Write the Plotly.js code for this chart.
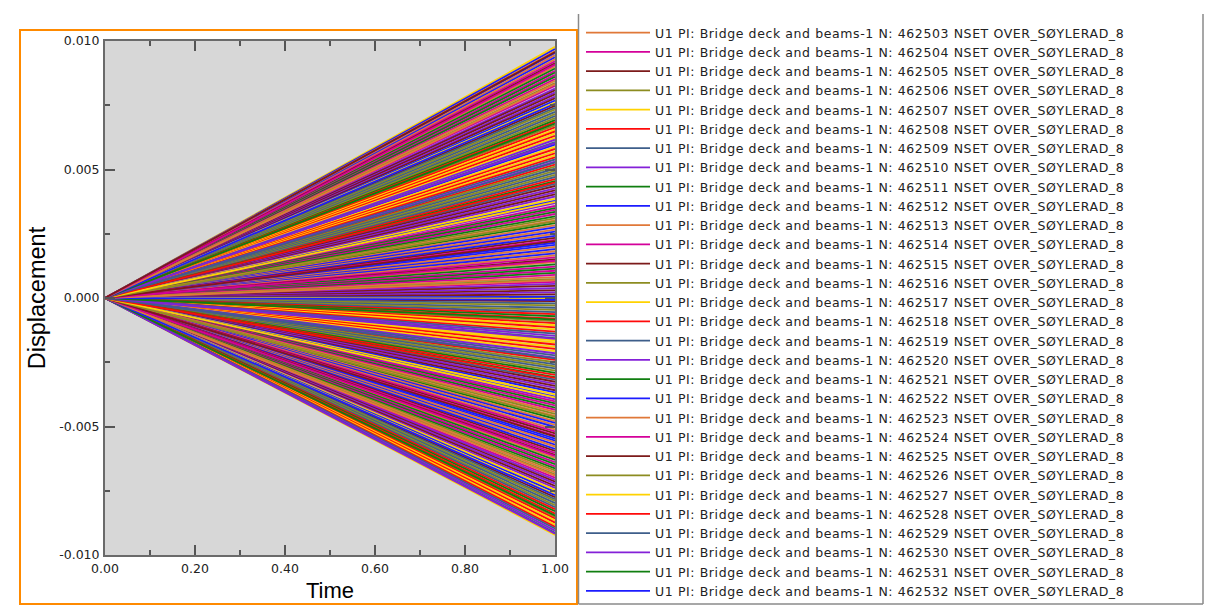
<!DOCTYPE html>
<html><head><meta charset="utf-8">
<script src="https://cdn.plot.ly/plotly-3.0.1.min.js"></script>
<style>
html,body{margin:0;padding:0;background:#fff;}
#chart{width:1211px;height:611px;}
.legendtext{letter-spacing:0.6px;}
</style></head><body><div id="chart"></div>
<script>
// Time axis samples (each history is a straight line from 0 to its final value)
const timeValues = [0.0, 1.0];
const startDisplacement = 0.0;
// U1 displacement at time = 1.0, one entry per node history
const endDisplacement = [
 0.00597, 0.00901, 0.00826, 0.00748, 0.00672, 0.00977, 0.00519, 0.00444, 0.00369, 0.00291, 0.00215, 0.00140, 0.00063, -0.00012, -0.00090, -0.00165, -0.00241, -0.00318, -0.00394, -0.00470, -0.00547, -0.00622, -0.00699, -0.00775, -0.00851, -0.00922,
 -0.00858, -0.00783, -0.00707, -0.00630, -0.00555, -0.00479, -0.00402, -0.00326, -0.00250, -0.00173, -0.00098, -0.00021, 0.00055, 0.00131, 0.00207, 0.00283, 0.00358, 0.00436, 0.00511, 0.00588, 0.00664, 0.00740, 0.00815, 0.00893, 0.00969,
 0.00961, 0.00884, 0.00808, 0.00733, 0.00655, 0.00580, 0.00503, 0.00427, 0.00350, 0.00275, 0.00199, 0.00122, 0.00047, -0.00029, -0.00106, -0.00181, -0.00258, -0.00334, -0.00410, -0.00486, -0.00562, -0.00639, -0.00715, -0.00790, -0.00866,
 -0.00874, -0.00798, -0.00722, -0.00647, -0.00571, -0.00494, -0.00418, -0.00342, -0.00266, -0.00190, -0.00114, -0.00038, 0.00038, 0.00114, 0.00190, 0.00266, 0.00343, 0.00419, 0.00495, 0.00571, 0.00648, 0.00724, 0.00800, 0.00877, 0.00953,
 0.00945, 0.00868, 0.00793, 0.00716, 0.00640, 0.00563, 0.00487, 0.00411, 0.00335, 0.00258, 0.00182, 0.00106, 0.00030, -0.00046, -0.00122, -0.00198, -0.00274, -0.00350, -0.00427, -0.00502, -0.00578, -0.00655, -0.00731, -0.00806, -0.00882,
 -0.00890, -0.00814, -0.00739, -0.00663, -0.00587, -0.00511, -0.00435, -0.00359, -0.00283, -0.00207, -0.00131, -0.00055, 0.00022, 0.00098, 0.00174, 0.00250, 0.00327, 0.00403, 0.00479, 0.00555, 0.00631, 0.00708, 0.00784, 0.00861, 0.00937,
 0.00929, 0.00852, 0.00777, 0.00700, 0.00623, 0.00547, 0.00471, 0.00395, 0.00318, 0.00242, 0.00166, 0.00090, 0.00014, 0.00003, -0.00004, -0.00063, -0.00139, -0.00215, -0.00291, -0.00367, -0.00443, -0.00519, -0.00595, -0.00671, -0.00747, -0.00822, -0.00897,
 -0.00905, -0.00830, -0.00755, -0.00679, -0.00603, -0.00527, -0.00451, -0.00375, -0.00299, -0.00223, -0.00147, -0.00071, 0.00005, 0.00081, 0.00158, 0.00234, 0.00310, 0.00386, 0.00463, 0.00539, 0.00616, 0.00692, 0.00768, 0.00845, 0.00921,
 0.00913, 0.00836, 0.00760, 0.00684, 0.00607, 0.00531, 0.00455, 0.00378, 0.00302, 0.00226, 0.00150, 0.00073, -0.00003, -0.00080, -0.00156, -0.00232, -0.00308, -0.00384, -0.00459, -0.00535, -0.00611, -0.00687, -0.00763, -0.00839, -0.00913,
 -0.00917, -0.00846, -0.00767, -0.00691, -0.00615, -0.00539, -0.00463, -0.00387, -0.00311, -0.00235, -0.00159, -0.00084, -0.00007, 0.00069, 0.00145, 0.00221, 0.00298, 0.00374, 0.00450, 0.00527, 0.00603, 0.00679, 0.00756, 0.00832, 0.00908, 0.00957
];
// Node labels visible in the legend list
const legendNodeIds = [462502, 462503, 462504, 462505, 462506, 462507, 462508, 462509, 462510, 462511, 462512, 462513, 462514, 462515, 462516, 462517, 462518, 462519, 462520, 462521, 462522, 462523, 462524, 462525, 462526, 462527, 462528, 462529, 462530, 462531, 462532];
const labelPrefix = 'U1 PI: Bridge deck and beams-1 N: ';
const labelSuffix = ' NSET OVER_SØYLERAD_8';
const xTickVals = [0.0, 0.2, 0.4, 0.6, 0.8, 1.0];
const xTickText = ['0.00', '0.20', '0.40', '0.60', '0.80', '1.00'];
const yTickVals = [-0.010, -0.005, 0.000, 0.005, 0.010];
const yTickText = ['-0.010', '-0.005', '0.000', '0.005', '0.010'];

const lineColors = ['#1c1cff', '#e07838', '#d4009a', '#7c1a1a', '#8c8c20', '#ffd200', '#ff0a0a', '#3e5e8a', '#8420d8', '#107e10'];

const traces = endDisplacement.map(function (v, i) {
  const hasLabel = i < legendNodeIds.length;
  return {
    type: 'scatter', mode: 'lines',
    x: timeValues,
    y: [startDisplacement, v],
    name: hasLabel ? labelPrefix + legendNodeIds[i] + labelSuffix : labelPrefix + labelSuffix,
    showlegend: hasLabel && i > 0,
    line: {color: lineColors[i % lineColors.length], width: 1.8},
    hoverinfo: 'x+y+name'
  };
});

const W = 1211, H = 611, L = 105, R = 656, T = 41, B = 56;
const pw = W - L - R, ph = H - T - B;
function px(x) { return (x - L) / pw; }
function py(y) { return (H - B - y) / ph; }

const tickFont = {family: 'DejaVu Sans, Verdana, sans-serif', size: 12.5, color: '#222'};

const layout = {
  width: W, height: H,
  margin: {l: L, r: R, t: T, b: B, pad: 0},
  paper_bgcolor: '#ffffff', plot_bgcolor: '#d7d7d7',
  showlegend: true,
  xaxis: {
    range: [0, 1], tickmode: 'array', tickvals: xTickVals, ticktext: xTickText,
    ticks: 'inside', ticklen: 10, tickwidth: 2, tickcolor: '#555',
    showline: true, linecolor: '#6a6a6a', linewidth: 2, mirror: 'allticks',
    showgrid: false, zeroline: false, automargin: false,
    tickfont: tickFont, ticklabelstandoff: 1,
    minor: {dtick: 0.1, tick0: 0, ticks: 'inside', ticklen: 5, tickwidth: 2, tickcolor: '#555', showgrid: false},
    title: {text: 'Time', font: {family: 'Liberation Sans, Arial, sans-serif', size: 22, color: '#000'}, standoff: 8}
  },
  yaxis: {
    range: [-0.010, 0.010], tickmode: 'array', tickvals: yTickVals, ticktext: yTickText,
    ticks: 'inside', ticklen: 10, tickwidth: 2, tickcolor: '#555',
    showline: true, linecolor: '#6a6a6a', linewidth: 2, mirror: 'allticks',
    showgrid: false, zeroline: false, automargin: false,
    tickfont: tickFont, ticklabelstandoff: 1,
    minor: {dtick: 0.0025, tick0: 0, ticks: 'inside', ticklen: 5, tickwidth: 2, tickcolor: '#555', showgrid: false},
    title: {text: 'Displacement', font: {family: 'Liberation Sans, Arial, sans-serif', size: 23.5, color: '#000'}, standoff: 7}
  },
  legend: {
    x: px(581), xanchor: 'left', y: py(18), yanchor: 'top',
    bgcolor: 'rgba(0,0,0,0)', borderwidth: 0, maxheight: 600,
    font: {family: 'DejaVu Sans, Verdana, sans-serif', size: 12.5, color: '#222'},
    itemwidth: 64, tracegroupgap: 0, traceorder: 'normal'
  },
  shapes: [
    {type: 'rect', xref: 'paper', yref: 'paper', x0: px(20), x1: px(577), y0: py(604), y1: py(30),
     line: {color: '#ff8a00', width: 2}, fillcolor: 'rgba(0,0,0,0)'},
    {type: 'line', xref: 'paper', yref: 'paper', x0: px(578.5), x1: px(578.5), y0: py(604), y1: py(14),
     line: {color: '#8a8a8a', width: 1.5}},
    {type: 'line', xref: 'paper', yref: 'paper', x0: px(1203), x1: px(1203), y0: py(604), y1: py(14),
     line: {color: '#8a8a8a', width: 1.5}},
    {type: 'line', xref: 'paper', yref: 'paper', x0: px(578.5), x1: px(1203), y0: py(604), y1: py(604),
     line: {color: '#8a8a8a', width: 1.5}}
  ]
};

Plotly.newPlot('chart', traces, layout, {displayModeBar: false, staticPlot: true});
</script>
</body></html>
